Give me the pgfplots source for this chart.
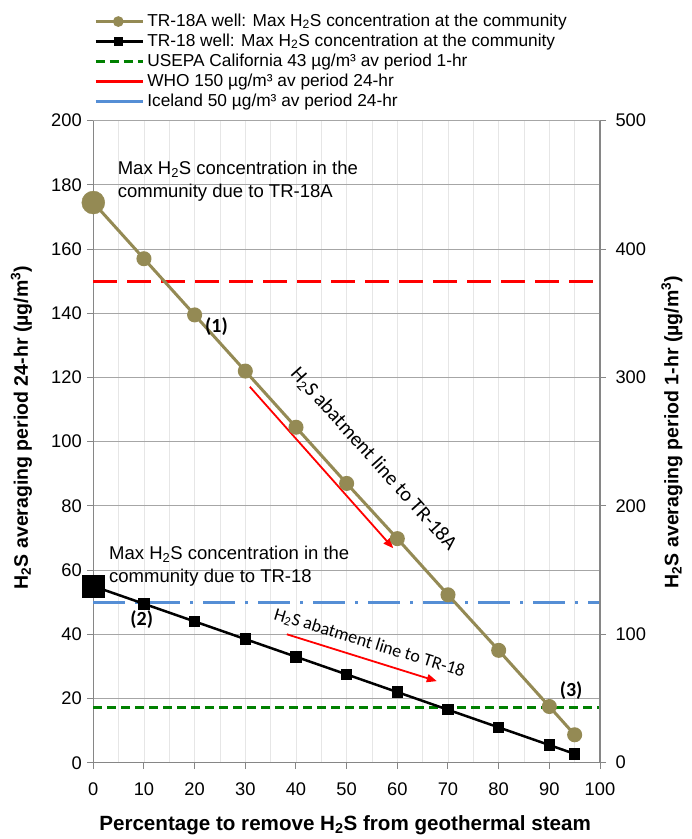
\documentclass[border=0pt]{standalone}
\usepackage{pgfplots}
\pgfplotsset{compat=1.18}
\usepackage{fontspec}
\setmainfont{Liberation Sans}
\newfontfamily\calib{Carlito}
\usetikzlibrary{arrows.meta}
\definecolor{tanD}{HTML}{948A54}
\definecolor{iceblue}{HTML}{558ED5}
\definecolor{usgreen}{HTML}{008000}
\definecolor{axgray}{HTML}{868686}
\definecolor{gridgray}{HTML}{A6A6A6}
\definecolor{mingray}{HTML}{E6E6E6}
\pgfplotsset{
  marksleg/.style={legend image code/.code={
    \draw[mark repeat=2,mark phase=2,##1] plot coordinates {(0bp,0bp) (22.5bp,0bp) (45bp,0bp)};
    \path (0bp,0bp) -- (47bp,0bp);}},
  solidleg/.style={legend image code/.code={
    \draw[##1] (0bp,0bp) -- (32bp,0bp);
    \path (0bp,0bp) -- (47bp,0bp);}},
}

\pgfplotstableread{
x y
0 174.5
10 157.0
20 139.5
30 122.0
40 104.5
50 87.0
60 69.8
70 52.3
80 35.0
90 17.5
95 8.7
}\tableA
\pgfplotstableread{
x y
0 55.0
10 49.5
20 44.0
30 38.5
40 33.0
50 27.5
60 22.0
70 16.5
80 11.0
90 5.5
95 2.75
}\tableB

\begin{document}
\begin{tikzpicture}
\useasboundingbox (-93.3bp,-76.3bp) rectangle (598.7bp,762.7bp);
\begin{axis}[
  scale only axis, width=506.7bp, height=642bp,
  xmin=0, xmax=100, ymin=0, ymax=200,
  axis x line*=bottom, axis y line*=left,
  axis line style={axgray, line width=1.2bp, -},
  xtick={0,10,...,100}, ytick={0,20,...,200},
  minor xtick={5,15,...,95},
  xmajorgrids, xminorgrids, ymajorgrids,
  major grid style={mingray, line width=0.8bp},
  minor grid style={mingray, line width=0.8bp},
  y grid style={gridgray, line width=1bp},
  tick align=outside, major tick length=6bp, minor tick length=0bp,
  tick style={axgray, line width=1bp},
  /pgf/number format/assume math mode=true,
  ticklabel style={font=\fontsize{18.3bp}{20bp}\selectfont},
  xticklabel style={yshift=-11bp},
  yticklabel style={xshift=-2bp},
  xlabel={Percentage to remove H\textsubscript{2}S from geothermal steam},
  xlabel style={font=\bfseries\fontsize{20.6bp}{23bp}\selectfont, at={(axis description cs:0.497,-0.0966)}, anchor=center},
  ylabel={H\textsubscript{2}S averaging period 24-hr (µg/m\textsuperscript{3})},
  ylabel style={font=\bfseries\fontsize{19.5bp}{22bp}\selectfont, at={(axis description cs:-0.142,0.522)}, anchor=center},
  legend style={at={(axis description cs:0.002,1.170)}, anchor=north west, draw=none, fill=none,
    inner sep=0pt, outer sep=0pt, row sep=0pt,
    font=\fontsize{17.3bp}{20bp}\selectfont,
    nodes={inner xsep=3bp, inner ysep=1.5bp, text height=13bp, text depth=4bp}},
  legend cell align=left,
  clip=false,
]
% legend entries
\addlegendimage{marksleg, tanD, line width=3bp, mark=*, mark size=3.8bp, mark options={fill=tanD, draw=tanD, solid}}
\addlegendentry{TR-18A well: Max H\textsubscript{2}S concentration at the community}
\addlegendimage{marksleg, black, line width=2.5bp, mark=square*, mark size=3.5bp, mark options={fill=black, solid}}
\addlegendentry{TR-18 well: Max H\textsubscript{2}S concentration at the community}
\addlegendimage{marksleg, usgreen, line width=3bp, dash pattern=on 9bp off 5bp}
\addlegendentry{USEPA California 43 µg/m³ av period 1-hr}
\addlegendimage{solidleg, red, line width=3bp}
\addlegendentry{WHO 150 µg/m³ av period 24-hr}
\addlegendimage{solidleg, iceblue, line width=3bp}
\addlegendentry{Iceland 50 µg/m³ av period 24-hr}

% reference lines
\addplot[forget plot, usgreen, line width=3bp, dash pattern=on 9bp off 5bp] coordinates {(0,17.2) (100,17.2)};
\addplot[forget plot, red, line width=3bp, dash pattern=on 24bp off 10bp] coordinates {(0,150) (100,150)};
\addplot[forget plot, iceblue, line width=3bp, dash pattern=on 32bp off 10bp on 3bp off 10bp] coordinates {(0,50) (100,50)};

% data
\addplot[forget plot, black, line width=2.5bp, mark=square*, mark size=4.5bp, mark options={fill=black}] table[x=x,y=y] {\tableB};
\addplot[forget plot, tanD, line width=3bp, mark=*, mark size=6bp, mark options={fill=tanD, draw=tanD}] table[x=x,y=y] {\tableA};
\addplot[forget plot, only marks, tanD, mark=*, mark size=11.5bp, mark options={fill=tanD, draw=tanD}] coordinates {(0,174.5)};
\addplot[forget plot, only marks, black, mark=square*, mark size=11bp, mark options={fill=black}] coordinates {(0,55)};

% annotations
\node[anchor=north west, align=left, inner sep=0pt, font=\fontsize{18.5bp}{23bp}\selectfont] at (axis cs:4.8,187.5)
  {Max H\textsubscript{2}S concentration in the\\community due to TR-18A};
\node[anchor=north west, align=left, inner sep=0pt, font=\fontsize{18.5bp}{23bp}\selectfont] at (axis cs:3.1,67.5)
  {Max H\textsubscript{2}S concentration in the\\community due to TR-18};
\node[font=\calib\bfseries\fontsize{20bp}{22bp}\selectfont] at (axis cs:24.3,136) {(1)};
\node[font=\calib\bfseries\fontsize{20bp}{22bp}\selectfont] at (axis cs:9.55,44.5) {(2)};
\node[font=\calib\bfseries\fontsize{20bp}{22bp}\selectfont] at (axis cs:94.3,22.5) {(3)};
\node[rotate=-48, font=\calib\fontsize{20.5bp}{22bp}\selectfont] at (axis cs:55.3,94.5) {H\textsubscript{2}S abatment line to TR-18A};
\node[rotate=-17, font=\calib\fontsize{18bp}{20bp}\selectfont] at (axis cs:54.5,37.2) {H\textsubscript{2}S abatment line to TR-18};
\draw[red, line width=1.8bp, -{Triangle[length=10bp,width=8bp]}] (axis cs:30.9,117.1) -- (axis cs:59.2,66.8);
\draw[red, line width=1.8bp, -{Triangle[length=10bp,width=8bp]}] (axis cs:38.2,40) -- (axis cs:67.8,25.4);
\end{axis}
\begin{axis}[
  scale only axis, width=506.7bp, height=642bp,
  xmin=0, xmax=100, ymin=0, ymax=500,
  axis x line=none, axis y line*=right,
  axis line style={axgray, line width=1.2bp, -},
  ytick={0,100,...,500},
  tick align=outside, major tick length=6bp,
  tick style={axgray, line width=1bp},
  /pgf/number format/assume math mode=true,
  ticklabel style={font=\fontsize{18.3bp}{20bp}\selectfont},
  yticklabel style={xshift=6bp},
  ylabel={H\textsubscript{2}S averaging period 1-hr (µg/m\textsuperscript{3})},
  ylabel style={font=\bfseries\fontsize{19.5bp}{22bp}\selectfont, at={(axis description cs:1.142,0.515)}, anchor=center},
]
\end{axis}
\end{tikzpicture}
\end{document}
